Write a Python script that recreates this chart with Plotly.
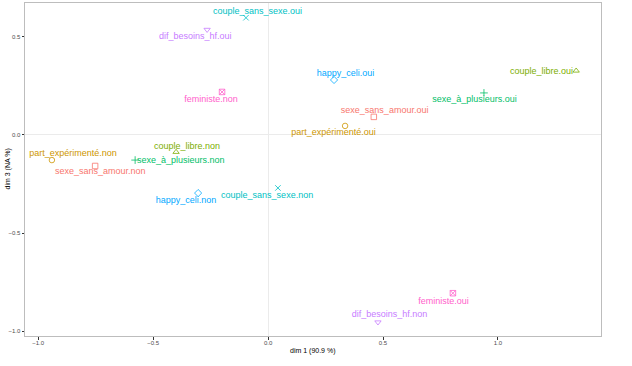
import plotly.graph_objects as go

# Variable modalities (ggplot hue palette order)
variables = ["sexe_sans_amour", "part_expérimenté", "couple_libre", "sexe_à_plusieurs",
             "couple_sans_sexe", "happy_celi", "dif_besoins_hf", "feministe"]
colors = ["#F8766D", "#CD9600", "#7CAE00", "#00BE67", "#00BFC4", "#00A9FF", "#C77CFF", "#FF61CC"]
symbols = ["square-open", "circle-open", "triangle-up-open", "cross-thin-open",
           "x-thin-open", "diamond-open", "triangle-down-open", "square-x-open"]

# Coordinates of the modalities on dim 1 / dim 3
dim1_non = [-0.752, -0.94, -0.40, -0.578, 0.043, -0.304, 0.478, -0.20]
dim3_non = [-0.158, -0.128, -0.087, -0.128, -0.270, -0.296, -0.954, 0.219]
dim1_oui = [0.46, 0.335, 1.34, 0.939, -0.096, 0.287, -0.265, 0.804]
dim3_oui = [0.092, 0.046, 0.327, 0.214, 0.597, 0.280, 0.536, -0.806]

# Repelled label positions
lab1_non = [-0.730, -0.848, -0.352, -0.380, -0.004, -0.357, 0.528, -0.248]
lab3_non = [-0.189, -0.097, -0.061, -0.133, -0.311, -0.337, -0.918, 0.179]
lab1_oui = [0.507, 0.285, 1.189, 0.898, -0.046, 0.337, -0.317, 0.763]
lab3_oui = [0.123, 0.010, 0.322, 0.179, 0.628, 0.311, 0.500, -0.847]

FONT = "Liberation Sans, Arial, sans-serif"

fig = go.Figure()
for i, v in enumerate(variables):
    fig.add_trace(go.Scatter(
        x=[dim1_non[i], dim1_oui[i]], y=[dim3_non[i], dim3_oui[i]],
        mode="markers",
        marker=dict(symbol=symbols[i], color=colors[i], size=5.5,
                    line=dict(color=colors[i], width=0.8)),
        showlegend=False, hoverinfo="skip"))
    fig.add_trace(go.Scatter(
        x=[lab1_non[i], lab1_oui[i]], y=[lab3_non[i], lab3_oui[i]],
        mode="text", text=[v + ".non", v + ".oui"],
        textposition="middle center",
        textfont=dict(family=FONT, size=9, color=colors[i]),
        showlegend=False, hoverinfo="skip"))

axis_common = dict(
    showgrid=False, zeroline=True, zerolinecolor="#EBEBEB", zerolinewidth=1,
    showline=True, mirror=True, linecolor="#BDBDBD", linewidth=1,
    ticks="outside", ticklen=2.5, tickcolor="#333333", tickwidth=0.6,
    tickfont=dict(family=FONT, size=6, color="#4D4D4D"),
    tickformat=".1f", automargin=False,
)
fig.update_xaxes(range=[-1.057, 1.448], tickvals=[-1.0, -0.5, 0.0, 0.5, 1.0],
                 ticklabelstandoff=-2, **axis_common)
fig.update_yaxes(range=[-1.024, 0.672], tickvals=[-1.0, -0.5, 0.0, 0.5], **axis_common)
fig.update_layout(
    width=632, height=366,
    margin=dict(l=25, r=31, t=3, b=30),
    plot_bgcolor="white", paper_bgcolor="white",
    annotations=[
        dict(text="dim 1 (90.9 %)", xref="paper", yref="paper", x=0.5, y=0,
             yshift=-9, yanchor="top", showarrow=False,
             font=dict(family=FONT, size=7, color="black")),
        dict(text="dim 3 (NA %)", xref="paper", yref="paper", x=0, y=0.5,
             xshift=-18, xanchor="center", textangle=-90, showarrow=False,
             font=dict(family=FONT, size=7, color="black")),
    ],
)
fig.write_html("out.html", config={"displayModeBar": False},
               post_script="document.body.style.margin='0';")
